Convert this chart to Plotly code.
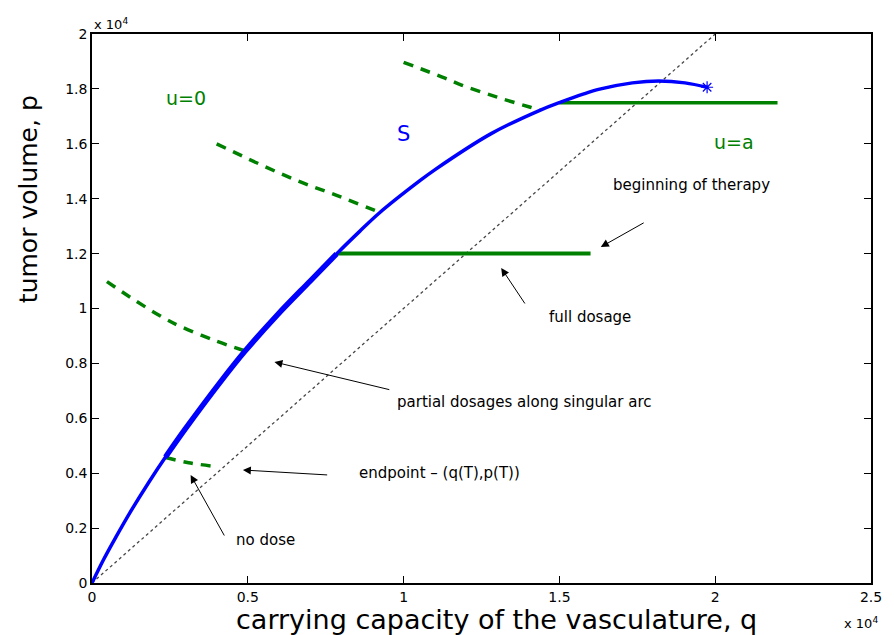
import plotly.graph_objects as go

# ---- data (q, p in units) ----
# singular curve S
q_S = [0, 360, 780, 1200, 1840, 2360, 3000, 4160, 4900, 5950, 7000, 7850, 8590, 9220,
       10480, 11010, 12810, 14390, 15020, 15760, 16290, 17340, 18190, 19030, 19740]
p_S = [0, 830, 1700, 2530, 3700, 4590, 5620, 7380, 8430, 9770, 11000, 11990, 12810, 13480,
       14620, 15060, 16370, 17230, 17510, 17810, 17990, 18220, 18290, 18220, 18060]
# singular arc (partial dosages) between these q values
arc_q_start = 2360
arc_q_end = 7850

# u=0 trajectories (dashed)
q_u0_a = [2360, 3100, 4000]
p_u0_a = [4570, 4380, 4240]
q_u0_b = [480, 1400, 2360, 2850, 3900, 4900]
p_u0_b = [10980, 10280, 9620, 9340, 8850, 8460]
q_u0_c = [4000, 5300, 6580, 7850, 9220]
p_u0_c = [16000, 15300, 14660, 14120, 13510]
q_u0_d = [10000, 11330, 11860, 13000, 14070, 14390]
p_u0_d = [18970, 18390, 18140, 17700, 17330, 17220]

# u=a trajectories (solid)
q_ua_top = [15000, 22000]
p_ua_top = [17500, 17500]
q_ua_low = [7850, 16000]
p_ua_low = [12000, 12000]

# diagonal p = q
q_diag = [0, 20000]
p_diag = [0, 20000]

# end star
q_star = [19740]
p_star = [18060]

x_ticks = [0, 5000, 10000, 15000, 20000, 25000]
x_ticktext = ["0", "0.5", "1", "1.5", "2", "2.5"]
y_ticks = [0, 2000, 4000, 6000, 8000, 10000, 12000, 14000, 16000, 18000, 20000]
y_ticktext = ["0", "0.2", "0.4", "0.6", "0.8", "1", "1.2", "1.4", "1.6", "1.8", "2"]

GREEN = "rgb(0,128,0)"
BLUE = "rgb(0,0,255)"
FONT = "DejaVu Sans"

fig = go.Figure()

fig.add_trace(go.Scatter(x=q_diag, y=p_diag, mode="lines",
                         line=dict(color="rgb(70,70,70)", width=1.3, dash="dot")))

for qq, pp in [(q_u0_a, p_u0_a), (q_u0_b, p_u0_b), (q_u0_c, p_u0_c), (q_u0_d, p_u0_d)]:
    fig.add_trace(go.Scatter(x=qq, y=pp, mode="lines", line_shape="spline",
                             line=dict(color=GREEN, width=3.5, dash="10px,8px")))

fig.add_trace(go.Scatter(x=q_ua_top, y=p_ua_top, mode="lines",
                         line=dict(color=GREEN, width=3.5)))
fig.add_trace(go.Scatter(x=q_ua_low, y=p_ua_low, mode="lines",
                         line=dict(color=GREEN, width=4)))

fig.add_trace(go.Scatter(x=q_S, y=p_S, mode="lines", line_shape="spline",
                         line=dict(color=BLUE, width=3.5)))
arc_q = [q for q in q_S if arc_q_start <= q <= arc_q_end]
arc_p = [p for q, p in zip(q_S, p_S) if arc_q_start <= q <= arc_q_end]
fig.add_trace(go.Scatter(x=arc_q, y=arc_p, mode="lines", line_shape="spline",
                         line=dict(color=BLUE, width=5.5)))

fig.add_trace(go.Scatter(x=q_star, y=p_star, mode="markers",
                         marker=dict(symbol="asterisk-open", size=10, color=BLUE,
                                     line=dict(color=BLUE, width=1.2))))

annotations = []

def txt(x, y, s, size=15, color="black"):
    annotations.append(dict(x=x, y=y, xref="x", yref="y", text=s, showarrow=False,
                            font=dict(family=FONT, size=size, color=color)))

def arrow(hx, hy, tx, ty):
    annotations.append(dict(x=hx, y=hy, ax=tx, ay=ty, xref="x", yref="y",
                            axref="x", ayref="y", text="", showarrow=True,
                            arrowhead=2, arrowsize=1.6, arrowwidth=1,
                            arrowcolor="black", standoff=0))

txt(3006, 17668, "u=0", 19, GREEN)
txt(20601, 16066, "u=a", 19, GREEN)
txt(9990, 16357, "S", 21, BLUE)
txt(19241, 14499, "beginning of therapy")
txt(15981, 9690, "full dosage")
txt(13877, 6612, "partial dosages along singular arc")
txt(11139, 4007, "endpoint \u2013 (q(T),p(T))")
txt(5570, 1566, "no dose")

arrow(16329, 12240, 17753, 13151)
arrow(13133, 11475, 13924, 10128)
arrow(5854, 8051, 9589, 7031)
arrow(4842, 4117, 7595, 3934)
arrow(3165, 3934, 4272, 1676)

# axis labels
annotations.append(dict(x=0.519, y=-0.066, xref="paper", yref="paper",
                        text="carrying capacity of the vasculature, q", showarrow=False,
                        font=dict(family=FONT, size=27, color="black"),
                        xanchor="center", yanchor="middle"))
annotations.append(dict(x=-0.0816, y=0.70, xref="paper", yref="paper",
                        text="tumor volume, p", showarrow=False, textangle=-90,
                        font=dict(family=FONT, size=25, color="black"),
                        xanchor="center", yanchor="middle"))
# exponent labels
annotations.append(dict(x=0.0, y=1.0, xref="paper", yref="paper",
                        text="x 10<sup>4</sup>", showarrow=False,
                        font=dict(family=FONT, size=13, color="black"),
                        xanchor="left", yanchor="bottom"))
annotations.append(dict(x=1.012, y=-0.055, xref="paper", yref="paper",
                        text="x 10<sup>4</sup>", showarrow=False,
                        font=dict(family=FONT, size=13, color="black"),
                        xanchor="right", yanchor="top"))

axis_common = dict(showgrid=False, zeroline=False, showline=True, linecolor="black",
                   linewidth=1.5, mirror="ticks", ticks="inside", ticklen=7,
                   tickcolor="black", tickwidth=1,
                   tickfont=dict(family=FONT, size=14, color="black"))

fig.update_layout(
    width=894, height=635,
    margin=dict(l=92, r=12, t=34, b=52),
    plot_bgcolor="white", paper_bgcolor="white",
    showlegend=False,
    xaxis=dict(range=[0, 25000], tickvals=x_ticks, ticktext=x_ticktext, **axis_common),
    yaxis=dict(range=[0, 20000], tickvals=y_ticks, ticktext=y_ticktext, **axis_common),
    annotations=annotations,
)

fig.write_html("out.html")
